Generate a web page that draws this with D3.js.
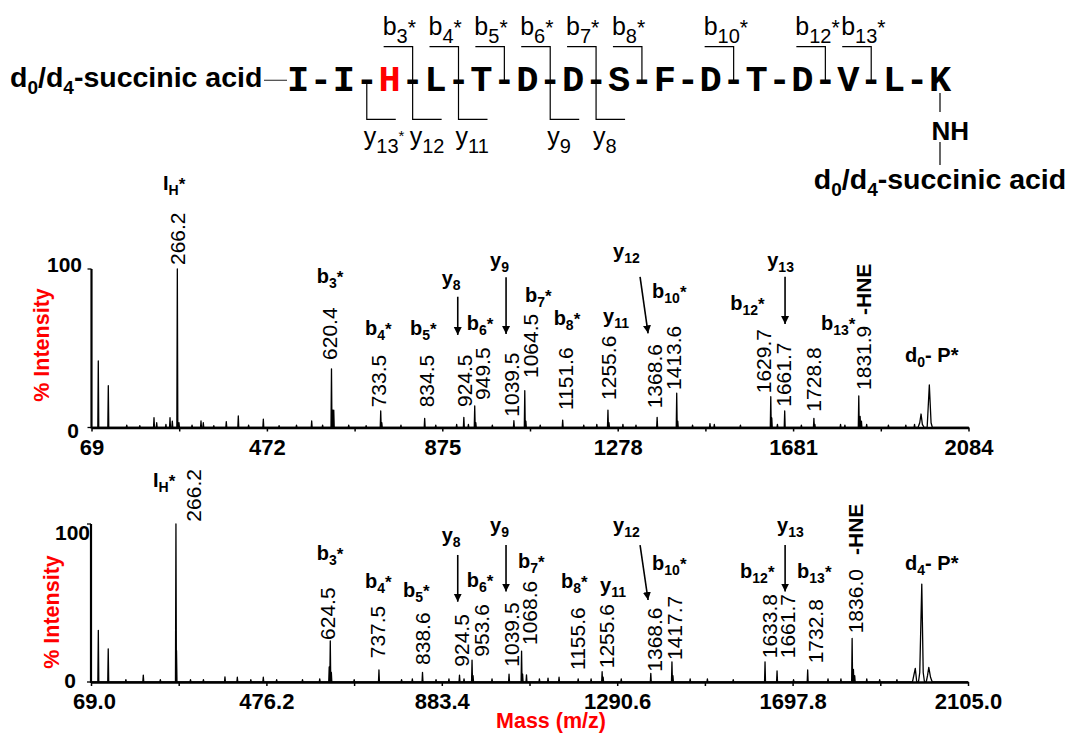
<!DOCTYPE html>
<html>
<head>
<meta charset="utf-8">
<script src="https://cdn.jsdelivr.net/npm/d3@7"></script>
<style>
  body { margin: 0; background: #fff; }
  text { font-family: "Liberation Sans", Arial, sans-serif; fill: #000; }
</style>
</head>
<body>
<svg id="chart" width="1071" height="736"></svg>
<script>
// ---- peptide ----
var residues = ["I","I","H","L","T","D","D","S","F","D","T","D","V","L","K"];
var bIons = [3, 4, 5, 6, 7, 8, 10, 12, 13];
var yIons = [13, 12, 11, 9, 8];
var yStarred = [13];

// ---- d0 spectrum (top): [m/z, % intensity] ----
var d0Ticks = [69, 472, 875, 1278, 1681, 2084];
var d0Peaks = [
  [84.6, 42], [107.6, 26.4], [150, 1.5], [180, 1.2], [212.6, 6.2], [218.8, 3], [240, 2],
  [249.4, 6.2], [254.7, 4], [266.2, 100], [270, 3], [300, 1.5], [320.6, 4.1], [325.9, 3],
  [350, 1.2], [378.7, 3.7], [406.3, 7.3], [430, 1.5], [463.8, 5.2], [500, 1.2], [540, 1.5],
  [574.9, 4.1], [600, 1.5], [620.4, 37], [623, 11], [625.6, 11], [660, 1.5], [700, 1.2],
  [733.5, 10.4], [736, 3], [780, 1.5], [834.5, 5.8], [860, 1.5], [908, 2], [924.5, 6.4],
  [935, 2], [949.5, 13.6], [952, 3], [990, 1.5], [1039.5, 4.3], [1064.5, 23.2], [1067, 4],
  [1100, 1.5], [1151.6, 4.7], [1200, 1.5], [1230, 2], [1255.6, 11], [1258, 3], [1290, 2],
  [1320, 1.5], [1368.6, 6.4], [1413.6, 21.6], [1416, 4], [1450, 1.5], [1490, 2.5], [1500, 2],
  [1560, 1.5], [1629.7, 19.4], [1632, 6], [1645, 2], [1661.7, 10.4], [1700, 1.5],
  [1728.8, 5.8], [1731, 2], [1790, 2], [1800, 1.5], [1831.9, 19.9], [1835, 7], [1838, 4],
  [1850, 2], [1900, 1.5], [1940, 1.5], [1960, 2]
];
var d0Precursor = [[1968, 0], [1972, 3], [1975, 8.5], [1978, 2], [1982, 0], [1989, 0],
  [1994, 26.8], [1998, 3], [2001, 0]];
// rotated m/z labels: [text, m/z, label bottom level %, dx]
var d0Labels = [
  ["266.2", 266.2, 102.5, 0], ["620.4", 620.4, 42.6, -2], ["733.5", 733.5, 12.7, -2],
  ["834.5", 834.5, 12.7, 2], ["924.5", 924.5, 12.9, 1], ["949.5", 949.5, 17.4, 8],
  ["1039.5", 1039.5, 6.8, -2], ["1064.5", 1064.5, 31.2, 6], ["1151.6", 1151.6, 11, 3],
  ["1255.6", 1255.6, 17.4, 0], ["1368.6", 1368.6, 12.1, -3], ["1413.6", 1413.6, 23.7, -3],
  ["1629.7", 1629.7, 21.6, -7], ["1661.7", 1661.7, 13.1, -1], ["1728.8", 1728.8, 10, 0],
  ["1831.9", 1831.9, 23.7, 5]
];
// ion names: [main, sub, sup, m/z, level %]
var d0Ions = [
  ["I", "H", "*", 233.3, 149.8], ["b", "3", "*", 586.5, 91], ["b", "4", "*", 697.4, 58.4],
  ["b", "5", "*", 800.8, 58.4], ["y", "8", "", 873.7, 89.9], ["b", "6", "*", 931.1, 61.5],
  ["y", "9", "", 984.7, 101.5], ["b", "7", "*", 1065, 79.4], ["b", "8", "*", 1130.8, 64.7],
  ["y", "11", "", 1244.3, 65.9], ["y", "12", "", 1267.3, 106.9], ["b", "10", "*", 1357, 81.5],
  ["b", "12", "*", 1536.6, 74.1], ["y", "13", "", 1621.6, 101.5], ["b", "13", "*", 1745.2, 61.5],
  ["d", "0", "- P*", 1938.3, 41.3]
];
var d0Arrows = [[910.5, 82.5, 910.5, 58.4], [1021.5, 94.8, 1021.5, 59], [1329.4, 95.1, 1347.8, 59.4], [1662.5, 95.1, 1662.5, 65.3]];
var d0Hne = [1831.9, 71, 5];

// ---- d4 spectrum (bottom) ----
var d4Ticks = [69.0, 476.2, 883.4, 1290.6, 1697.8, 2105.0];
var d4Peaks = [
  [86, 32.7], [109, 21], [150, 1.5], [190.4, 4.4], [230, 1.5], [266.2, 100], [267.5, 20],
  [300, 1.5], [330, 1.5], [380, 3.3], [408.7, 3], [440, 1.5], [469, 3], [500, 1.5],
  [560, 1.5], [600, 2], [622, 9.5], [624.5, 26], [627, 6], [680, 1.5], [737.5, 7.6],
  [790, 1.5], [815, 2], [838.6, 6.1], [870, 1.5], [900, 2], [924.5, 4.4], [935, 2],
  [953.6, 13.9], [956, 4], [1000, 2], [1039.5, 4.9], [1068.6, 19.6], [1071, 5], [1080, 4.5],
  [1110, 2], [1130, 2.5], [1155.6, 3], [1200, 2], [1230, 2], [1255.6, 6.5], [1258, 3],
  [1300, 2], [1368.6, 5.5], [1417.7, 12.8], [1420, 4], [1460, 2], [1500, 2], [1560, 1.5],
  [1633.8, 12.8], [1661.7, 7], [1700, 1.5], [1732.8, 7.6], [1780, 2], [1810, 2],
  [1836.0, 27.6], [1839, 8], [1842, 4], [1870, 2], [1900, 1.5], [1940, 1.5]
];
var d4Precursor = [[1976, 0], [1982.6, 8.6], [1986, 0], [1990, 0], [1993, 6], [1997.7, 62],
  [2001, 6], [2004, 0], [2008, 0], [2011, 4], [2014, 9.3], [2018, 3], [2022, 0]];
var d4Labels = [
  ["266.2", 266.2, 101.5, 17], ["624.5", 624.5, 26.6, -3], ["737.5", 737.5, 15, -2],
  ["838.6", 838.6, 10.8, 0], ["924.5", 924.5, 9.7, 2], ["953.6", 953.6, 16, 9],
  ["1039.5", 1039.5, 9.7, 2], ["1068.6", 1068.6, 23.4, 8], ["1155.6", 1155.6, 7.6, 18],
  ["1255.6", 1255.6, 8.7, 4], ["1368.6", 1368.6, 6.5, 4], ["1417.7", 1417.7, 13.9, 2],
  ["1633.8", 1633.8, 15, 4], ["1661.7", 1661.7, 15, 10], ["1732.8", 1732.8, 11.8, 8],
  ["1836.0", 1836.0, 30.8, 3]
];
var d4Ions = [
  ["I", "H", "*", 212.9, 123.6], ["b", "3", "*", 593, 77.2], ["b", "4", "*", 705.2, 59.3],
  ["b", "5", "*", 793.4, 54], ["y", "8", "", 883.2, 88.8], ["b", "6", "*", 941.3, 60.3],
  ["y", "9", "", 995.4, 95.1], ["b", "7", "*", 1060.4, 72], ["b", "8", "*", 1160.3, 59.3],
  ["y", "11", "", 1250.8, 57.2], ["y", "12", "", 1281, 95.1], ["b", "10", "*", 1371.6, 70.9],
  ["b", "12", "*", 1575.9, 65.6], ["y", "13", "", 1661.8, 95.1], ["b", "13", "*", 1708.3, 65.6],
  ["d", "4", "- P*", 1958.9, 70.9]
];
var d4Arrows = [[920.4, 80.4, 920.4, 50.8], [1032.5, 86.7, 1032.5, 57.2], [1343.7, 86.7, 1362.3, 51.9], [1680.4, 86.7, 1680.4, 57.2]];
var d4Hne = [1836.0, 80.4, 3];

var RED = "#ff0000";
var svg = d3.select("#chart");

svg.append("defs").append("marker")
  .attr("id", "arrow").attr("viewBox", "0 0 10 10").attr("refX", 10).attr("refY", 5)
  .attr("markerWidth", 5).attr("markerHeight", 6).attr("markerUnits", "strokeWidth")
  .attr("orient", "auto")
  .append("path").attr("d", "M0,0L10,5L0,10Z").attr("fill", "#000");

// ---------- sequence ----------
var seqX = d3.scaleLinear().domain([0, residues.length - 1]).range([298, 940]);
var seqG = svg.append("g");
var seqBase = 90.7;

function subText(g, x, y, parts, size, weight, subScale, subShift, supScale, supLift) {
  // parts: [main, sub, sup]
  var t = g.append("text").attr("x", x).attr("y", y)
    .attr("font-size", size).attr("font-weight", weight);
  t.append("tspan").text(parts[0]);
  var shift = 0;
  if (parts[1]) {
    shift = subShift;
    t.append("tspan").attr("font-size", size * subScale).attr("dy", shift).text(parts[1]);
  }
  if (parts[2]) {
    t.append("tspan").attr("font-size", size * supScale).attr("dy", -shift - supLift).text(parts[2]);
  }
  return t;
}

function succinic(x, y, anchor) {
  var t = seqG.append("text").attr("x", x).attr("y", y).attr("text-anchor", anchor)
    .attr("font-size", 28.5).attr("font-weight", "bold");
  t.append("tspan").text("d");
  t.append("tspan").attr("font-size", 19).attr("dy", 7).text("0");
  t.append("tspan").attr("dy", -7).text("/d");
  t.append("tspan").attr("font-size", 19).attr("dy", 7).text("4");
  t.append("tspan").attr("dy", -7).text("-succinic acid");
}

succinic(10, 86.5, "start");

seqG.append("line").attr("x1", 264).attr("x2", 287).attr("y1", 80.3).attr("y2", 80.3)
  .attr("stroke", "#444").attr("stroke-width", 1.2);

seqG.selectAll(".res").data(residues).enter().append("text")
  .attr("class", "res")
  .attr("x", function(d, i) { return seqX(i); })
  .attr("y", seqBase)
  .attr("text-anchor", "middle")
  .style("font-family", "'Liberation Mono', 'Courier New', monospace")
  .attr("font-weight", "bold").attr("font-size", 37)
  .style("fill", function(d, i) { return i === 2 ? RED : "#000"; })
  .text(function(d) { return d; });

seqG.selectAll(".dash").data(d3.range(residues.length - 1)).enter().append("text")
  .attr("class", "dash")
  .attr("x", function(i) { return seqX(i + 0.5); })
  .attr("y", seqBase)
  .attr("text-anchor", "middle")
  .style("font-family", "'Liberation Mono', 'Courier New', monospace")
  .attr("font-weight", "bold").attr("font-size", 37)
  .text("-");

bIons.forEach(function(n) {
  var bx = seqX(n - 0.5);
  seqG.append("path").attr("d", "M" + (bx - 29) + ",46.7H" + bx + "V80")
    .attr("fill", "none").attr("stroke", "#000").attr("stroke-width", 1.2);
  subText(seqG, bx - 30, 34.6, ["b", String(n), "*"], 25, "normal", 0.8, 8, 0.85, 0);
});
yIons.forEach(function(n) {
  var bx = seqX(residues.length - n - 0.5);
  seqG.append("path").attr("d", "M" + bx + ",83V119.4H" + (bx + 29))
    .attr("fill", "none").attr("stroke", "#000").attr("stroke-width", 1.2);
  subText(seqG, bx - 3, 145.4, ["y", String(n), yStarred.indexOf(n) >= 0 ? "*" : ""], 25, "normal", 0.8, 8, 0.6, 4);
});

var kx = seqX(residues.length - 1);
seqG.append("line").attr("x1", kx).attr("x2", kx).attr("y1", 93).attr("y2", 112).attr("stroke", "#000").attr("stroke-width", 1.2);
seqG.append("text").attr("x", kx - 8.5).attr("y", 139.5).attr("font-size", 26).attr("font-weight", "bold").text("NH");
seqG.append("line").attr("x1", kx).attr("x2", kx).attr("y1", 142).attr("y2", 165).attr("stroke", "#000").attr("stroke-width", 1.2);
succinic(kx, 189, "middle");

// ---------- spectra ----------
function drawPanel(cfg) {
  var g = svg.append("g");
  var x = d3.scaleLinear().domain([cfg.ticks[0], cfg.ticks[cfg.ticks.length - 1]]).range([cfg.x0, cfg.x1]);
  var y = d3.scaleLinear().domain([0, 100]).range([cfg.yBase, cfg.yTop]);

  // spectrum trace
  var pts = [[cfg.ticks[0], 0]];
  cfg.peaks.slice().sort(function(a, b) { return a[0] - b[0]; }).forEach(function(p) {
    pts.push([p[0] - 1.1, 0], [p[0], p[1]], [p[0] + 1.1, 0]);
  });
  cfg.precursor.forEach(function(p) { pts.push(p); });
  pts.push([cfg.ticks[cfg.ticks.length - 1], 0]);
  var line = d3.line().x(function(d) { return x(d[0]); }).y(function(d) { return y(d[1]); });
  g.append("path").attr("d", line(pts)).attr("fill", "none")
    .attr("stroke", "#000").attr("stroke-width", 1.3).attr("stroke-linejoin", "round");

  // x axis with minor ticks at half steps
  var allTicks = [];
  d3.pairs(cfg.ticks).forEach(function(p) { allTicks.push(p[0], (p[0] + p[1]) / 2); });
  allTicks.push(cfg.ticks[cfg.ticks.length - 1]);
  var ax = g.append("g").attr("transform", "translate(0," + cfg.yBase + ")")
    .call(d3.axisBottom(x).tickValues(allTicks).tickSize(4).tickSizeOuter(0).tickPadding(cfg.pad)
      .tickFormat(function(d) { return cfg.ticks.indexOf(d) >= 0 ? cfg.fmt(d) : ""; }));
  ax.select(".domain").attr("stroke-width", 2.6);
  ax.selectAll(".tick line").attr("stroke-width", 1.5);
  ax.selectAll(".tick text").attr("font-size", 22).attr("font-weight", "bold")
    .style("font-family", "'Liberation Sans', Arial, sans-serif").attr("fill", "#000")
    .attr("dx", function(d, i) { return i === 0 ? cfg.firstDx : 0; });

  // y axis
  g.append("line").attr("x1", cfg.x0).attr("x2", cfg.x0).attr("y1", y(0) + 1).attr("y2", y(100))
    .attr("stroke", "#000").attr("stroke-width", 2.2);
  [0, 100].forEach(function(v) {
    g.append("line").attr("x1", cfg.x0 - 4).attr("x2", cfg.x0).attr("y1", y(v)).attr("y2", y(v))
      .attr("stroke", "#000").attr("stroke-width", 1.3);
  });
  g.append("text").attr("x", cfg.y100[0]).attr("y", cfg.y100[1]).attr("text-anchor", "end")
    .attr("font-size", 21).attr("font-weight", "bold").text("100");
  g.append("text").attr("x", cfg.y0[0]).attr("y", cfg.y0[1]).attr("text-anchor", "end")
    .attr("font-size", 21).attr("font-weight", "bold").text("0");
  g.append("text").attr("transform", "translate(" + cfg.yTitle[0] + "," + cfg.yTitle[1] + ") rotate(-90)")
    .attr("text-anchor", "middle").attr("dy", "0.35em")
    .attr("font-size", 21.5).attr("font-weight", "bold").style("fill", RED).text("% Intensity");

  // rotated m/z labels
  cfg.labels.forEach(function(l) {
    g.append("text")
      .attr("transform", "translate(" + (x(l[1]) + l[3]) + "," + y(l[2]) + ") rotate(-90)")
      .attr("dy", "0.36em").attr("font-size", 21).text(l[0]);
  });
  g.append("text")
    .attr("transform", "translate(" + (x(cfg.hne[0]) + cfg.hne[2]) + "," + y(cfg.hne[1]) + ") rotate(-90)")
    .attr("dy", "0.36em").attr("font-size", 21).attr("font-weight", "bold").text("-HNE");

  // ion annotations
  cfg.ions.forEach(function(a) {
    var t = g.append("text").attr("x", x(a[3])).attr("y", y(a[4]))
      .attr("font-size", 20).attr("font-weight", "bold");
    t.append("tspan").text(a[0]);
    t.append("tspan").attr("font-size", 14).attr("dy", 5).text(a[1]);
    if (a[2]) t.append("tspan").attr("font-size", a[2] === "*" ? 17 : 20).attr("dy", -5).text(a[2]);
  });
  cfg.arrows.forEach(function(a) {
    g.append("line").attr("x1", x(a[0])).attr("y1", y(a[1])).attr("x2", x(a[2])).attr("y2", y(a[3]))
      .attr("stroke", "#000").attr("stroke-width", 1.6).attr("marker-end", "url(#arrow)");
  });
}

drawPanel({
  ticks: d0Ticks, peaks: d0Peaks, precursor: d0Precursor, labels: d0Labels, ions: d0Ions,
  arrows: d0Arrows, hne: d0Hne,
  x0: 91.5, x1: 968.5, yBase: 427.5, yTop: 269, pad: 8, firstDx: 0,
  fmt: d3.format("d"), y100: [82, 272], y0: [79, 438], yTitle: [41.7, 345]
});
drawPanel({
  ticks: d4Ticks, peaks: d4Peaks, precursor: d4Precursor, labels: d4Labels, ions: d4Ions,
  arrows: d4Arrows, hne: d4Hne,
  x0: 91, x1: 968, yBase: 682, yTop: 524, pad: 7, firstDx: 3,
  fmt: d3.format(".1f"), y100: [90, 540], y0: [76, 688], yTitle: [51.7, 612]
});

svg.append("text").attr("x", 551).attr("y", 728).attr("text-anchor", "middle")
  .attr("font-size", 21.5).attr("font-weight", "bold").style("fill", RED).text("Mass (m/z)");
</script>
</body>
</html>
